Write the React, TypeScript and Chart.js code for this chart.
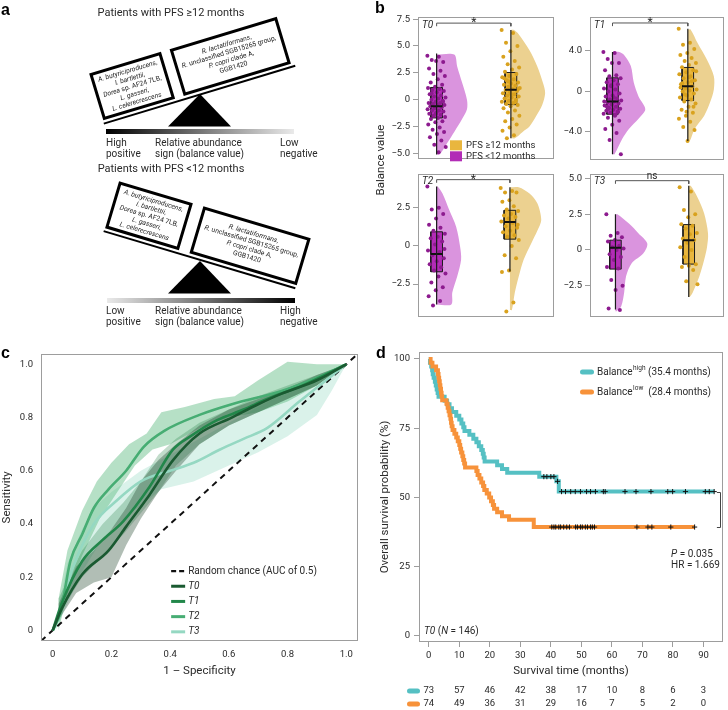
import React, { useEffect, useRef } from "react";
import { Chart, registerables } from "chart.js";

Chart.register(...registerables);

const FONT = "Roboto, 'Noto Sans', 'DejaVu Sans', sans-serif";
const BOLD_FONT = "'Liberation Sans', Arial, sans-serif";
const TXT = "#2a2a2a";
const FRAME = "#9d9d9d";
Chart.defaults.font.family = FONT;
Chart.defaults.color = TXT;

// ---------------- Panel b data ----------------
const t0LowPts = [4.1, 4.0, 3.7, 3.5, 3.6, 2.9, 2.7, 2.4, 2.2, 1.9, 1.6, 1.4, 1.2, 1.1, 1.0, 0.9, 0.8, 0.7, 0.5, 0.4, 0.3, 0.2, 0.1, 0.0, -0.1, -0.2, -0.3, -0.3, -0.4, -0.5, -0.5, -0.6, -0.7, -0.8, -0.9, -1.0, -1.0, -1.1, -1.2, -1.3, -1.4, -1.5, -1.6, -1.7, -1.8, -2.0, -2.1, -2.3, -2.6, -2.8, -3.0, -3.2, -3.5, -3.8, -4.2, -4.4, -4.9, 0.6, -0.2, -1.3];
const t0HighPts = [6.5, 6.2, 5.3, 5.0, 4.5, 4.0, 3.6, 3.3, 3.0, 2.8, 2.6, 2.4, 2.2, 2.1, 1.9, 1.8, 1.6, 1.5, 1.4, 1.3, 1.2, 1.1, 1.0, 0.9, 0.8, 0.7, 0.6, 0.5, 0.4, 0.3, 0.2, 0.1, 0.0, -0.1, -0.2, -0.3, -0.4, -0.5, -0.6, -0.8, -1.0, -1.2, -1.5, -1.8, -2.0, -2.3, -2.6, -2.9, -3.3, -3.6, 1.0, 0.5, 2.0, -0.2, 1.7];
const t1LowPts = [3.9, 3.8, 3.2, 2.8, 2.8, 2.1, 1.6, 1.5, 1.3, 1.1, 0.9, 0.7, 0.5, 0.3, 0.2, 0, -0.2, -0.4, -0.5, -0.7, -0.8, -0.9, -1.0, -1.1, -1.2, -1.3, -1.4, -1.5, -1.6, -1.7, -1.8, -1.9, -2.0, -2.1, -2.2, -2.4, -2.6, -2.9, -3.3, -3.7, -4.1, -4.8, -6.2, -0.6, -1.5, -2.0, 0.6, -1.0, -2.3, -1.7];
const t1HighPts = [6.2, 4.8, 4.6, 4.2, 3.8, 3.6, 3.3, 3.0, 2.8, 2.6, 2.4, 2.1, 1.9, 1.7, 1.5, 1.3, 1.1, 0.9, 0.7, 0.5, 0.3, 0.2, 0.1, 0, -0.2, -0.4, -0.6, -0.8, -1.0, -1.2, -1.5, -1.8, -2.1, -2.4, -2.7, -3.0, -3.5, -3.8, -4.9, 0.4, 1.0, -0.3, 2.0, 1.4, 0.8, -1.5, -2.0];
const t2LowPts = [3.9, 2.5, 2.4, 2.1, 1.8, 1.4, 1.2, 1.0, 0.8, 0.6, 0.5, 0.3, 0.1, -0.3, -0.4, -0.6, -0.8, -1.0, -1.2, -1.4, -1.6, -1.8, -2.0, -2.4, -2.7, -2.9, -3.3, -3.6, -3.9, -0.2];
const t2HighPts = [3.8, 3.6, 3.5, 3.5, 3.0, 2.9, 2.6, 2.4, 2.3, 2.1, 2.0, 1.9, 1.8, 1.6, 1.5, 1.3, 1.2, 1.0, 0.9, 0.7, 0.6, 0.4, 0, -0.6, -0.8, -1.6, -1.7, -3.7, -4.3, 1.4];
const t3LowPts = [2.5, 1.2, 1.0, 0.9, 0.7, 0.6, 0.3, 0.2, 0.1, 0.0, -0.3, -0.5, -0.7, -1.2, -1.3, -2.1, -2.5, -2.8, -4.1, -4.2];
const t3HighPts = [4.4, 4.1, 2.8, 2.5, 2.3, 1.8, 1.7, 1.5, 1.2, 1.1, 0.8, 0.7, 0.5, 0.2, 0.0, -0.5, -1.0, -1.1, -1.2, -1.4, -2.2, -2.4];

// box stats: [whisker min, Q1, median, Q3, whisker max]
const t0LowBox = [-5.1, -1.7, -0.62, 1.14, 4.3];
const t0HighBox = [-3.6, -0.46, 0.93, 2.53, 6.5];
const t1LowBox = [-6.2, -2.25, -1.0, 1.34, 3.9];
const t1HighBox = [-4.9, -0.9, 0.5, 2.37, 6.2];
const t2LowBox = [-3.83, -1.69, -0.52, 0.93, 3.9];
const t2HighBox = [-1.67, 0.45, 1.58, 2.34, 3.85];
const t3LowBox = [-4.17, -1.34, 0.16, 0.69, 2.5];
const t3HighBox = [-3.29, -0.99, 0.69, 1.78, 4.5];

// half-violin outlines: value levels and densities
const t0LowVY = [4.2, 3.1, 1.6, 0, -0.9, -1.8, -3, -4, -5.1];
const t0LowVD = [18, 21, 26, 31, 31, 26, 18, 11, 3];
const t0HighVY = [6.5, 6.2, 4.6, 3.1, 1.5, 0.6, -0.5, -1.5, -2.5, -3.0, -3.6];
const t0HighVD = [3, 7, 19, 27, 33, 35, 32, 26, 19, 12, 4];
const t1LowVY = [3.9, 3.6, 2.5, 0.9, -0.5, -1.76, -2.7, -3.7, -4.7, -6.2];
const t1LowVD = [7, 12, 19, 22, 27, 34, 27, 17, 10, 2];
const t1HighVY = [6.1, 4.8, 3.1, 1.5, 0.2, -1.1, -2.4, -3.7, -4.9];
const t1HighVD = [3, 10, 20, 27, 27, 23, 17, 7, 2];
const t2LowVY = [3.9, 3.44, 2.34, 1.25, -0.05, -0.9, -2.0, -3.05, -3.83];
const t2LowVD = [1, 6, 13, 20, 24, 25, 21, 16, 15];
const t2HighVY = [3.85, 3.44, 2.8, 1.7, 1.0, 0.2, -0.9, -2.0, -3.05, -4.2];
const t2HighVD = [9, 20, 28, 32, 28, 22, 14, 9, 5, 2];
const t3LowVY = [2.5, 1.85, 1.16, 0.46, -0.23, -0.92, -1.85, -3.0, -3.94, -4.3];
const t3LowVD = [2, 14, 24, 33, 29, 17, 11, 9, 6, 1];
const t3HighVY = [4.5, 3.7, 2.56, 1.16, 0.23, -0.69, -1.85, -3.0, -3.29];
const t3HighVD = [2, 9, 16, 20, 19, 16, 11, 4, 1];

const t0Ticks = [-5, -2.5, 0, 2.5, 5, 7.5];
const t0TickLabels = ["−5.0", "−2.5", "0", "2.5", "5.0", "7.5"];
const t1Ticks = [-4, 0, 4];
const t1TickLabels = ["−4.0", "0", "4.0"];
const t2Ticks = [-2.5, 0, 2.5];
const t2TickLabels = ["−2.5", "0", "2.5"];
const t3Ticks = [-2.5, 0, 2.5, 5];
const t3TickLabels = ["−2.5", "0", "2.5", "5.0"];
const sigLabels = ["*", "*", "*", "ns"];
const sigLevels = [7.13, 6.76, 4.35, 4.86];
const timeLabels = ["T0", "T1", "T2", "T3"];
const groupLegend = ["PFS ≥12 months", "PFS <12 months"];

// ---------------- Panel c data (ROC) ----------------
const rocT0X = [0, 0.03, 0.1, 0.19, 0.25, 0.33, 0.41, 0.5, 0.61, 0.7, 0.78, 0.9, 1];
const rocT0Y = [0, 0.08, 0.21, 0.3, 0.39, 0.51, 0.64, 0.74, 0.8, 0.85, 0.89, 0.94, 1];
const rocT1X = [0, 0.03, 0.1, 0.17, 0.24, 0.33, 0.41, 0.47, 0.56, 0.65, 0.73, 0.85, 1];
const rocT1Y = [0, 0.1, 0.26, 0.34, 0.41, 0.54, 0.68, 0.73, 0.79, 0.83, 0.87, 0.92, 1];
const rocT2X = [0, 0.027, 0.06, 0.1, 0.14, 0.19, 0.25, 0.31, 0.38, 0.5, 0.61, 0.78, 0.9, 1];
const rocT2Y = [0, 0.07, 0.26, 0.36, 0.46, 0.53, 0.6, 0.69, 0.75, 0.81, 0.85, 0.9, 0.95, 1];
const rocT3X = [0, 0.01, 0.07, 0.14, 0.22, 0.3, 0.4, 0.48, 0.57, 0.65, 0.73, 0.84, 1];
const rocT3Y = [0, 0.02, 0.24, 0.4, 0.49, 0.56, 0.6, 0.63, 0.68, 0.72, 0.76, 0.86, 1];

const bandT0X = [0.02, 0.08, 0.14, 0.2, 0.25, 0.3, 0.36, 0.42, 0.5, 0.6, 0.7, 0.8, 0.9, 1];
const bandT0Hi = [0.1, 0.24, 0.3, 0.38, 0.46, 0.56, 0.64, 0.7, 0.77, 0.83, 0.87, 0.91, 0.96, 1];
const bandT0Lo = [0.04, 0.14, 0.18, 0.2, 0.32, 0.42, 0.52, 0.6, 0.7, 0.77, 0.82, 0.87, 0.92, 1];
const bandT1X = [0.02, 0.1, 0.17, 0.24, 0.3, 0.36, 0.42, 0.5, 0.6, 0.7, 0.8, 0.9, 1];
const bandT1Hi = [0.12, 0.3, 0.4, 0.48, 0.56, 0.66, 0.72, 0.78, 0.83, 0.88, 0.92, 0.96, 1];
const bandT1Lo = [0.06, 0.2, 0.28, 0.36, 0.44, 0.52, 0.62, 0.7, 0.77, 0.82, 0.87, 0.92, 1];
const bandT2HiX = [0.02, 0.05, 0.1, 0.15, 0.2, 0.26, 0.32, 0.37, 0.45, 0.55, 0.62, 0.7, 0.8, 0.9, 1];
const bandT2Hi = [0.12, 0.3, 0.45, 0.56, 0.63, 0.7, 0.74, 0.82, 0.84, 0.87, 0.88, 0.94, 1.01, 1.0, 1];
const bandT2LoX = [0.02, 0.05, 0.1, 0.16, 0.22, 0.28, 0.34, 0.4, 0.5, 0.6, 0.7, 0.8, 0.9, 1];
const bandT2Lo = [0.0, 0.14, 0.28, 0.42, 0.52, 0.62, 0.68, 0.7, 0.76, 0.8, 0.82, 0.86, 0.92, 1];
const bandT3HiX = [0.01, 0.05, 0.1, 0.15, 0.2, 0.25, 0.3, 0.35, 0.4, 0.5, 0.6, 0.7, 0.8, 0.9, 1];
const bandT3Hi = [0.03, 0.25, 0.38, 0.47, 0.52, 0.56, 0.6, 0.63, 0.66, 0.72, 0.78, 0.84, 0.9, 0.95, 1];
const bandT3LoX = [0.01, 0.05, 0.1, 0.15, 0.2, 0.3, 0.37, 0.48, 0.6, 0.7, 0.8, 0.9, 0.95, 1];
const bandT3Lo = [0, 0.1, 0.22, 0.31, 0.38, 0.47, 0.53, 0.56, 0.62, 0.67, 0.73, 0.81, 0.9, 1];

const rocTicks = [0, 0.2, 0.4, 0.6, 0.8, 1];
const rocTickLabels = ["0", "0.2", "0.4", "0.6", "0.8", "1.0"];
const rocLegendLabels = ["Random chance (AUC of 0.5)", "T0", "T1", "T2", "T3"];

// ---------------- Panel d data (Kaplan–Meier) ----------------
const kmHighT = [0, 0.4, 0.8, 1.1, 1.3, 1.6, 2.0, 2.3, 2.6, 2.9, 3.2, 5.2, 6.0, 6.8, 7.6, 9.0, 10.0, 10.7, 11.3, 11.7, 13.3, 14.6, 15.6, 16.4, 17.2, 17.7, 18.0, 18.3, 22.4, 24.0, 25.7, 36.2, 41.8, 42.6, 93.5];
const kmHighS = [100, 98.6, 97.3, 95.9, 94.5, 93.2, 91.8, 90.4, 89.0, 87.7, 86.3, 84.9, 83.6, 82.2, 80.8, 79.5, 78.1, 76.7, 75.3, 74.0, 72.6, 71.2, 69.9, 68.5, 67.1, 65.8, 64.4, 63.0, 61.6, 60.3, 58.9, 57.5, 55.8, 52.1, 52.1];
const kmLowT = [0, 0.6, 1.2, 2.4, 3.0, 3.2, 3.4, 3.6, 3.8, 4.0, 4.2, 4.4, 5.8, 6.2, 6.5, 6.8, 7.1, 7.3, 7.5, 7.8, 8.4, 9.0, 9.5, 10.0, 10.3, 10.6, 11.0, 11.3, 11.6, 11.9, 15.6, 16.0, 16.6, 17.2, 17.8, 18.2, 19.0, 19.8, 20.4, 21.0, 21.4, 22.4, 24.0, 26.3, 34.4, 87.1];
const kmLowS = [100, 98.6, 97.3, 95.9, 94.6, 93.2, 91.9, 90.5, 89.2, 87.8, 86.5, 85.1, 83.8, 82.4, 81.1, 79.7, 78.4, 77.0, 75.7, 74.3, 73.0, 71.6, 70.3, 68.9, 67.6, 66.2, 64.9, 63.5, 62.2, 60.8, 59.5, 58.1, 56.8, 55.4, 54.1, 52.7, 51.4, 50.0, 48.6, 47.3, 45.9, 44.6, 43.2, 41.9, 39.3, 39.3];
const kmHighCensor = [37.7, 38.7, 40, 41, 42.2, 43.5, 44.8, 46.5, 48, 49.7, 51.7, 53, 54.6, 57.2, 57.8, 64.3, 67.9, 72.8, 78.3, 79.9, 84.1, 90.6, 91.9, 93.5];
const kmLowCensor = [40.3, 41, 41.6, 42.6, 43.2, 44.2, 45.2, 46.1, 48.1, 48.7, 49.7, 50.3, 51.3, 52, 53, 53.6, 54.3, 68.2, 71.8, 73.1, 79.3, 87.1];
const riskTimes = [0, 10, 20, 30, 40, 50, 60, 70, 80, 90];
const riskHigh = [73, 57, 46, 42, 38, 17, 10, 8, 6, 3];
const riskLow = [74, 49, 36, 31, 29, 16, 7, 5, 2, 0];
const kmXTicks = [0, 10, 20, 30, 40, 50, 60, 70, 80, 90];
const kmYTicks = [0, 25, 50, 75, 100];
const kmLegendSup = ["high", "low"];
const kmLegendRest = [" (35.4 months)", "  (28.4 months)"];
const kmStats = ["0.035", "1.669"];

// ---------------- Colours ----------------
const LOW_COL = { violin: "#da94de", box: "#b22cb6", pt: "#8d1b8f" };
const HIGH_COL = { violin: "#ecd190", box: "#e9b63e", pt: "#d9a21e" };
const ROC_LINE = ["#1a5a31", "#22874a", "#47ad73", "#95d8c2"];
const ROC_BAND = ["rgba(40,75,50,0.36)", "rgba(35,130,70,0.28)", "rgba(80,180,118,0.42)", "rgba(150,218,196,0.35)"];
const TEAL = "#55c0c3";
const ORANGE = "#f7923a";

const NONE = "rgba(0,0,0,0)";
const VSCALE = 1 / 139;
const BOX_HW = 0.043;
const JIT = 0.068;

function jitter(i: number) {
  return (((i * 0.6180339887) % 1) - 0.5) * 2 * JIT;
}

function fixedTicks(vals: number[]) {
  return (s: any) => {
    s.ticks = vals.map((v) => ({ value: v }));
  };
}
function labelFor(vals: number[], labels: string[]) {
  return (v: any) => {
    const i = vals.findIndex((t) => Math.abs(t - Number(v)) < 1e-9);
    return i >= 0 ? labels[i] : "";
  };
}

const framePlugin = {
  id: "frame",
  afterDraw(chart: any) {
    const { ctx, chartArea: a } = chart;
    ctx.save();
    ctx.strokeStyle = FRAME;
    ctx.lineWidth = 1;
    ctx.strokeRect(Math.round(a.left) + 0.5, Math.round(a.top) + 0.5, Math.round(a.right - a.left) - 1, Math.round(a.bottom - a.top) - 1);
    ctx.restore();
  },
};

// ---------------- Panel b charts ----------------
function groupDatasets(pts: number[], box: number[], vy: number[], vd: number[], cx: number, col: any) {
  const violin = [{ x: cx, y: vy[0] }, ...vy.map((y, i) => ({ x: cx + vd[i] * VSCALE, y })), { x: cx, y: vy[vy.length - 1] }];
  const [mn, q1, md, q3, mx] = box;
  return [
    { data: violin, showLine: true, fill: "shape", backgroundColor: col.violin, borderColor: NONE, borderWidth: 0, pointRadius: 0, tension: 0.3, order: 5 },
    {
      data: [{ x: cx - BOX_HW, y: q1 }, { x: cx + BOX_HW, y: q1 }, { x: cx + BOX_HW, y: q3 }, { x: cx - BOX_HW, y: q3 }, { x: cx - BOX_HW, y: q1 }],
      showLine: true, fill: "shape", backgroundColor: col.box, borderColor: "#1a1a1a", borderWidth: 1, pointRadius: 0, tension: 0, order: 4,
    },
    { data: pts.map((v, i) => ({ x: cx + jitter(i), y: v })), showLine: false, pointRadius: 2, backgroundColor: col.pt, pointBackgroundColor: col.pt, pointBorderWidth: 0, borderColor: NONE, order: 3 },
    { data: [{ x: cx, y: mn }, { x: cx, y: mx }], showLine: true, borderColor: "#1a1a1a", borderWidth: 1.2, pointRadius: 0, order: 1 },
    { data: [{ x: cx - BOX_HW, y: md }, { x: cx + BOX_HW, y: md }], showLine: true, borderColor: "#111", borderWidth: 2, pointRadius: 0, order: 1 },
  ];
}

function makeSub(p: any) {
  const d = (p.yMax - p.yMin) * 0.022;
  const datasets: any[] = [
    ...groupDatasets(p.lowPts, p.lowBox, p.lowVY, p.lowVD, p.cLow, LOW_COL),
    ...groupDatasets(p.highPts, p.highBox, p.highVY, p.highVD, p.cHigh, HIGH_COL),
    {
      data: [{ x: p.cLow, y: p.sigY - d }, { x: p.cLow, y: p.sigY }, { x: p.cHigh, y: p.sigY }, { x: p.cHigh, y: p.sigY - d }],
      showLine: true, borderColor: "#555", borderWidth: 1, pointRadius: 0, order: 0,
    },
  ];
  const textPlugin = {
    id: "subText",
    afterDraw(chart: any) {
      const { ctx, chartArea: a, scales } = chart;
      const x = scales.x, y = scales.y;
      ctx.save();
      ctx.fillStyle = TXT;
      ctx.textAlign = "left";
      ctx.textBaseline = "middle";
      ctx.font = `italic 10px ${FONT}`;
      ctx.fillText(p.label, a.left + 4, a.top + 8);
      ctx.textAlign = "center";
      ctx.textBaseline = "alphabetic";
      const sx = (x.getPixelForValue(p.cLow) + x.getPixelForValue(p.cHigh)) / 2;
      const sy = y.getPixelForValue(p.sigY);
      if (p.sig === "ns") {
        ctx.font = `10px ${FONT}`;
        ctx.fillText(p.sig, sx, sy - 2);
      } else {
        ctx.font = `12px ${FONT}`;
        ctx.fillText(p.sig, sx, sy + 3);
      }
      if (p.legend) {
        const cols = [HIGH_COL.box, LOW_COL.box];
        ctx.textAlign = "left";
        ctx.textBaseline = "middle";
        ctx.font = `9.5px ${FONT}`;
        groupLegend.forEach((t, i) => {
          const yy = a.bottom - 14 + i * 11;
          ctx.fillStyle = cols[i];
          ctx.fillRect(a.left + 32, yy - 5, 12, 10);
          ctx.fillStyle = TXT;
          ctx.fillText(t, a.left + 48, yy);
        });
      }
      ctx.restore();
    },
  };
  return {
    type: "scatter",
    data: { datasets },
    options: {
      responsive: false,
      animation: false,
      events: [],
      layout: { padding: p.pad },
      plugins: { legend: { display: false }, tooltip: { enabled: false } },
      scales: {
        x: { type: "linear", min: 0, max: 1, display: false },
        y: {
          type: "linear",
          min: p.yMin,
          max: p.yMax,
          afterBuildTicks: fixedTicks(p.ticks),
          afterFit: (s: any) => { s.width = p.yw; },
          ticks: { callback: labelFor(p.ticks, p.tickLabels), autoSkip: false, font: { size: 9.5, family: FONT }, color: TXT, padding: 3 },
          grid: { display: true, drawOnChartArea: false, drawTicks: true, tickLength: 5, color: FRAME },
          border: { display: false },
        },
      },
    },
    plugins: [framePlugin, textPlugin],
  };
}

const subParams = [
  { label: timeLabels[0], lowPts: t0LowPts, highPts: t0HighPts, lowBox: t0LowBox, highBox: t0HighBox, lowVY: t0LowVY, lowVD: t0LowVD, highVY: t0HighVY, highVD: t0HighVD, yMin: -5.55, yMax: 7.7, ticks: t0Ticks, tickLabels: t0TickLabels, sig: sigLabels[0], sigY: sigLevels[0], cLow: 0.137, cHigh: 0.683, legend: true, yw: 38, pad: { top: 17, right: 1, bottom: 8, left: 0 }, box: [380, 0, 178, 168] },
  { label: timeLabels[1], lowPts: t1LowPts, highPts: t1HighPts, lowBox: t1LowBox, highBox: t1HighBox, lowVY: t1LowVY, lowVD: t1LowVD, highVY: t1HighVY, highVD: t1HighVD, yMin: -6.8, yMax: 7.35, ticks: t1Ticks, tickLabels: t1TickLabels, sig: sigLabels[1], sigY: sigLevels[1], cLow: 0.168, cHigh: 0.73, legend: false, yw: 32, pad: { top: 17, right: 1, bottom: 8, left: 0 }, box: [558, 0, 170, 169] },
  { label: timeLabels[2], lowPts: t2LowPts, highPts: t2HighPts, lowBox: t2LowBox, highBox: t2HighBox, lowVY: t2LowVY, lowVD: t2LowVD, highVY: t2HighVY, highVD: t2HighVD, yMin: -4.61, yMax: 4.74, ticks: t2Ticks, tickLabels: t2TickLabels, sig: sigLabels[2], sigY: sigLevels[2], cLow: 0.137, cHigh: 0.676, legend: false, yw: 38, pad: { top: 8, right: 1, bottom: 8, left: 0 }, box: [380, 165, 178, 160] },
  { label: timeLabels[3], lowPts: t3LowPts, highPts: t3HighPts, lowBox: t3LowBox, highBox: t3HighBox, lowVY: t3LowVY, lowVD: t3LowVD, highVY: t3HighVY, highVD: t3HighVD, yMin: -4.65, yMax: 5.35, ticks: t3Ticks, tickLabels: t3TickLabels, sig: sigLabels[3], sigY: sigLevels[3], cLow: 0.19, cHigh: 0.737, legend: false, yw: 32, pad: { top: 8, right: 1, bottom: 8, left: 0 }, box: [558, 165, 170, 160] },
];

// ---------------- Panel c chart ----------------
function zipXY(xs: number[], ys: number[]) {
  return xs.map((x, i) => ({ x, y: ys[i] }));
}
function bandPoly(hx: number[], hy: number[], lx: number[], ly: number[]) {
  return [...zipXY(hx, hy), ...zipXY(lx, ly).reverse()];
}

function makeRoc() {
  const bands = [
    bandPoly(bandT3HiX, bandT3Hi, bandT3LoX, bandT3Lo),
    bandPoly(bandT2HiX, bandT2Hi, bandT2LoX, bandT2Lo),
    bandPoly(bandT1X, bandT1Hi, bandT1X, bandT1Lo),
    bandPoly(bandT0X, bandT0Hi, bandT0X, bandT0Lo),
  ];
  const bandCols = [ROC_BAND[3], ROC_BAND[2], ROC_BAND[1], ROC_BAND[0]];
  const lines = [zipXY(rocT3X, rocT3Y), zipXY(rocT2X, rocT2Y), zipXY(rocT1X, rocT1Y), zipXY(rocT0X, rocT0Y)];
  const lineCols = [ROC_LINE[3], ROC_LINE[2], ROC_LINE[1], ROC_LINE[0]];
  const datasets: any[] = [];
  bands.forEach((b, i) => datasets.push({ data: b, showLine: true, fill: "shape", backgroundColor: bandCols[i], borderColor: NONE, borderWidth: 0, pointRadius: 0, tension: 0, order: 20 - i }));
  datasets.push({ data: [{ x: -0.04, y: -0.04 }, { x: 1.04, y: 1.04 }], showLine: true, borderColor: "#111", borderWidth: 2, borderDash: [6, 5], pointRadius: 0, order: 10 });
  lines.forEach((l, i) => datasets.push({ data: l, showLine: true, borderColor: lineCols[i], borderWidth: 2.6, pointRadius: 0, cubicInterpolationMode: "monotone", order: 8 - i }));

  const legendPlugin = {
    id: "rocLegend",
    afterDraw(chart: any) {
      const { ctx, scales } = chart;
      const x0 = scales.x.getPixelForValue(0.4);
      let yy = scales.y.getPixelForValue(0.223);
      ctx.save();
      ctx.textAlign = "left";
      ctx.textBaseline = "middle";
      rocLegendLabels.forEach((lab, i) => {
        ctx.beginPath();
        ctx.strokeStyle = i === 0 ? "#111" : ROC_LINE[i - 1];
        ctx.lineWidth = i === 0 ? 2.2 : 3;
        ctx.setLineDash(i === 0 ? [5, 3] : []);
        ctx.moveTo(x0 + 1, yy);
        ctx.lineTo(x0 + 15, yy);
        ctx.stroke();
        ctx.setLineDash([]);
        ctx.fillStyle = TXT;
        ctx.font = `${i === 0 ? "" : "italic "}10px ${FONT}`;
        ctx.fillText(lab, x0 + 18, yy);
        yy += 15.2;
      });
      ctx.restore();
    },
  };

  return {
    type: "scatter",
    data: { datasets },
    options: {
      responsive: false,
      animation: false,
      events: [],
      layout: { padding: { top: 12, right: 12, bottom: 0, left: 0 } },
      plugins: { legend: { display: false }, tooltip: { enabled: false } },
      scales: {
        x: {
          type: "linear", min: -0.04, max: 1.04,
          afterBuildTicks: fixedTicks(rocTicks),
          afterFit: (s: any) => { s.height = 44; },
          ticks: { callback: labelFor(rocTicks, rocTickLabels), autoSkip: false, maxRotation: 0, font: { size: 9.5 }, color: TXT, padding: 8 },
          grid: { display: false, drawTicks: false },
          border: { display: false },
          title: { display: true, text: "1 – Specificity", font: { size: 11.5 }, color: TXT, padding: { top: 0, bottom: 7 } },
        },
        y: {
          type: "linear", min: -0.04, max: 1.04,
          afterBuildTicks: fixedTicks(rocTicks),
          afterFit: (s: any) => { s.width = 41; },
          ticks: { callback: labelFor(rocTicks, rocTickLabels), autoSkip: false, font: { size: 9.5 }, color: TXT, padding: 8 },
          grid: { display: false, drawTicks: false },
          border: { display: false },
          title: { display: true, text: "Sensitivity", font: { size: 11.5 }, color: TXT, padding: { top: 0, bottom: 0 } },
        },
      },
    },
    plugins: [framePlugin, legendPlugin],
  };
}

// ---------------- Panel d chart ----------------
function survAt(ts: number[], ss: number[], t: number) {
  let s = ss[0];
  for (let i = 0; i < ts.length; i++) if (ts[i] <= t) s = ss[i];
  return s;
}

function makeKm() {
  const datasets: any[] = [
    { data: zipXY(kmHighT, kmHighS), showLine: true, stepped: true, borderColor: TEAL, borderWidth: 4, pointRadius: 0, order: 4 },
    { data: zipXY(kmLowT, kmLowS), showLine: true, stepped: true, borderColor: ORANGE, borderWidth: 4, pointRadius: 0, order: 3 },
    { data: kmHighCensor.map((t) => ({ x: t, y: survAt(kmHighT, kmHighS, t) })), showLine: false, pointStyle: "cross", pointRadius: 2.6, borderColor: "#111", pointBorderColor: "#111", pointBorderWidth: 1, order: 1 },
    { data: kmLowCensor.map((t) => ({ x: t, y: survAt(kmLowT, kmLowS, t) })), showLine: false, pointStyle: "cross", pointRadius: 2.6, borderColor: "#111", pointBorderColor: "#111", pointBorderWidth: 1, order: 1 },
  ];
  const kmPlugin = {
    id: "kmExtras",
    afterDraw(chart: any) {
      const { ctx, chartArea: a, scales } = chart;
      const x = scales.x, y = scales.y;
      ctx.save();
      // legend
      const cols = [TEAL, ORANGE];
      ctx.textAlign = "left";
      ctx.textBaseline = "middle";
      kmLegendSup.forEach((sup, i) => {
        const yy = a.top + 20 + i * 20;
        const x0 = a.right - 143;
        ctx.strokeStyle = cols[i];
        ctx.lineWidth = 5;
        ctx.lineCap = "round";
        ctx.beginPath();
        ctx.moveTo(x0 + 2.5, yy);
        ctx.lineTo(x0 + 11.5, yy);
        ctx.stroke();
        ctx.fillStyle = TXT;
        let tx = x0 + 17;
        ctx.font = `10px ${FONT}`;
        ctx.fillText("Balance", tx, yy);
        tx += ctx.measureText("Balance").width + 0.5;
        ctx.font = `6.5px ${FONT}`;
        ctx.fillText(sup, tx, yy - 4);
        tx += ctx.measureText(sup).width;
        ctx.font = `10px ${FONT}`;
        ctx.fillText(kmLegendRest[i], tx, yy);
      });
      // bracket
      ctx.lineCap = "butt";
      ctx.strokeStyle = "#444";
      ctx.lineWidth = 1;
      const bx = Math.round(x.getPixelForValue(95.5)) + 0.5;
      ctx.beginPath();
      ctx.moveTo(x.getPixelForValue(94.4), Math.round(y.getPixelForValue(52.1)) + 0.5);
      ctx.lineTo(bx, Math.round(y.getPixelForValue(52.1)) + 0.5);
      ctx.lineTo(bx, Math.round(y.getPixelForValue(39.3)) + 0.5);
      ctx.lineTo(x.getPixelForValue(94.4), Math.round(y.getPixelForValue(39.3)) + 0.5);
      ctx.stroke();
      // stats
      ctx.fillStyle = TXT;
      const px = x.getPixelForValue(79.4);
      const py = y.getPixelForValue(29.5);
      ctx.font = `italic 10px ${FONT}`;
      ctx.fillText("P", px, py);
      const w = ctx.measureText("P").width;
      ctx.font = `10px ${FONT}`;
      ctx.fillText(" = " + kmStats[0], px + w, py);
      ctx.fillText("HR = " + kmStats[1], px, py + 11.5);
      // T0 (N = 146)
      const segs: [string, boolean][] = [["T0", true], [" (", false], ["N", true], [" = 146)", false]];
      let tx = a.left + 5;
      const ty = a.bottom - 11;
      segs.forEach(([s, it]) => {
        ctx.font = `${it ? "italic " : ""}10px ${FONT}`;
        ctx.fillText(s, tx, ty);
        tx += ctx.measureText(s).width;
      });
      // risk table
      ctx.textAlign = "center";
      ctx.font = `9.5px ${FONT}`;
      [riskHigh, riskLow].forEach((arr, r) => {
        const ry = a.bottom + 49 + r * 13;
        ctx.strokeStyle = cols[r];
        ctx.lineWidth = 5;
        ctx.lineCap = "round";
        ctx.beginPath();
        ctx.moveTo(a.left - 9.5, ry);
        ctx.lineTo(a.left - 1.5, ry);
        ctx.stroke();
        ctx.fillStyle = TXT;
        arr.forEach((n, i) => ctx.fillText(String(n), x.getPixelForValue(riskTimes[i]), ry));
      });
      ctx.restore();
    },
  };
  return {
    type: "scatter",
    data: { datasets },
    options: {
      responsive: false,
      animation: false,
      events: [],
      layout: { padding: { top: 12, right: 2, bottom: 31, left: 0 } },
      plugins: { legend: { display: false }, tooltip: { enabled: false } },
      scales: {
        x: {
          type: "linear", min: -3.2, max: 96.4,
          afterBuildTicks: fixedTicks(kmXTicks),
          afterFit: (s: any) => { s.height = 37; },
          ticks: { callback: (v: any) => String(v), autoSkip: false, maxRotation: 0, font: { size: 9.5 }, color: TXT, padding: 3 },
          grid: { display: true, drawOnChartArea: false, drawTicks: true, tickLength: 5, color: FRAME },
          border: { display: false },
          title: { display: true, text: "Survival time (months)", font: { size: 11.5 }, color: TXT, padding: { top: 0, bottom: 1 } },
        },
        y: {
          type: "linear", min: -2.2, max: 102.5,
          afterBuildTicks: fixedTicks(kmYTicks),
          afterFit: (s: any) => { s.width = 41; },
          ticks: { callback: (v: any) => String(v), autoSkip: false, font: { size: 9.5 }, color: TXT, padding: 4 },
          grid: { display: true, drawOnChartArea: false, drawTicks: true, tickLength: 5, color: FRAME },
          border: { display: false },
          title: { display: true, text: "Overall survival probability (%)", font: { size: 11.5 }, color: TXT, padding: { top: 0, bottom: 0 } },
        },
      },
    },
    plugins: [framePlugin, kmPlugin],
  };
}

// ---------------- Components ----------------
function ChartCanvas({ box, make }: { box: number[]; make: () => any }) {
  const ref = useRef<HTMLCanvasElement>(null);
  useEffect(() => {
    const c = new Chart(ref.current as HTMLCanvasElement, make());
    return () => c.destroy();
  }, []);
  const [l, t, w, h] = box;
  return <canvas ref={ref} width={w} height={h} style={{ position: "absolute", left: l, top: t, width: w, height: h }} />;
}

type Seg = [string, boolean];
const leftBoxLines: Seg[][] = [
  [["A. butyriciproducens", true], [",", false]],
  [["I. bartlettii", true], [",", false]],
  [["Dorea", true], [" sp. AF24 7LB,", false]],
  [["L. gasseri", true], [",", false]],
  [["L. celerecrescens", true]],
];
const rightBoxLines: Seg[][] = [
  [["R. lactatiformans", true], [",", false]],
  [["R.", true], [" unclassified SGB15265 group,", false]],
  [["P. copri", true], [" clade A,", false]],
  [["GGB1420", false]],
];

function BoxText({ lines, cx, cy }: { lines: Seg[][]; cx: number; cy: number }) {
  const n = lines.length;
  return (
    <>
      {lines.map((segs, i) => (
        <text key={i} x={cx} y={cy + (i - (n - 1) / 2) * 8 + 2.3} fontSize={6.8} textAnchor="middle" fill="#222">
          {segs.map(([s, it], j) => (
            <tspan key={j} fontStyle={it ? "italic" : "normal"}>{s}</tspan>
          ))}
        </text>
      ))}
    </>
  );
}

function Seesaw({ tx, ty, angle, lx, lw, rx, rw }: any) {
  return (
    <g transform={`translate(${tx},${ty}) rotate(${angle})`}>
      <line x1={-100} y1={1.8} x2={100} y2={1.8} stroke="#000" strokeWidth={2} />
      <rect x={lx} y={-49} width={lw} height={46} fill="#fff" stroke="#000" strokeWidth={3} />
      <rect x={rx} y={-49} width={rw} height={46} fill="#fff" stroke="#000" strokeWidth={3} />
      <BoxText lines={leftBoxLines} cx={lx + lw / 2} cy={-26} />
      <BoxText lines={rightBoxLines} cx={rx + rw / 2} cy={-27} />
    </g>
  );
}

function PanelA() {
  return (
    <g fontFamily={FONT} fill={TXT}>
      <defs>
        <linearGradient id="gradTop" x1="0" x2="1" y1="0" y2="0">
          <stop offset="0" stopColor="#000" />
          <stop offset="1" stopColor="#eaeaea" />
        </linearGradient>
        <linearGradient id="gradBot" x1="0" x2="1" y1="0" y2="0">
          <stop offset="0" stopColor="#eaeaea" />
          <stop offset="1" stopColor="#000" />
        </linearGradient>
      </defs>
      <text x={171} y={16} fontSize={11} textAnchor="middle">Patients with PFS ≥12 months</text>
      <Seesaw tx={199} ty={93} angle={-16.8} lx={-98} lw={72} rx={-14} rw={109} />
      <polygon points="200,94 168,126.5 231,126.5" fill="#000" />
      <rect x={106} y={129} width={188} height={5} fill="url(#gradTop)" />
      <text x={106} y={146} fontSize={10}>High</text>
      <text x={106} y={157} fontSize={10}>positive</text>
      <text x={155} y={146} fontSize={10}>Relative abundance</text>
      <text x={155} y={157} fontSize={10}>sign (balance value)</text>
      <text x={280} y={146} fontSize={10}>Low</text>
      <text x={280} y={157} fontSize={10}>negative</text>

      <text x={171} y={172} fontSize={11} textAnchor="middle">Patients with PFS &lt;12 months</text>
      <Seesaw tx={200} ty={258} angle={16.6} lx={-98} lw={74} rx={-10} rw={109} />
      <polygon points="200,261 168,293.5 231,293.5" fill="#000" />
      <rect x={107} y={298} width={188} height={5} fill="url(#gradBot)" />
      <text x={106} y={314} fontSize={10}>Low</text>
      <text x={106} y={325} fontSize={10}>positive</text>
      <text x={155} y={314} fontSize={10}>Relative abundance</text>
      <text x={155} y={325} fontSize={10}>sign (balance value)</text>
      <text x={280} y={314} fontSize={10}>High</text>
      <text x={280} y={325} fontSize={10}>negative</text>
    </g>
  );
}

export default function App() {
  return (
    <div style={{ position: "absolute", left: 0, top: 0, width: 728, height: 710, background: "#fff", overflow: "hidden" }}>
      <svg width={728} height={710} style={{ position: "absolute", left: 0, top: 0, willChange: "transform" }}>
        <PanelA />
        <g fontFamily={BOLD_FONT} fontWeight="bold" fontSize={16} fill="#000">
          <text x={1} y={15}>a</text>
          <text x={375} y={13}>b</text>
          <text x={1} y={358}>c</text>
          <text x={376} y={358}>d</text>
        </g>
        <text transform="translate(384,160) rotate(-90)" textAnchor="middle" fontFamily={FONT} fontSize={11.5} fill={TXT}>Balance value</text>
      </svg>
      {subParams.map((p, i) => (
        <ChartCanvas key={i} box={p.box} make={() => makeSub(p)} />
      ))}
      <ChartCanvas box={[0, 340, 370, 345]} make={makeRoc} />
      <ChartCanvas box={[378, 340, 350, 370]} make={makeKm} />
    </div>
  );
}
